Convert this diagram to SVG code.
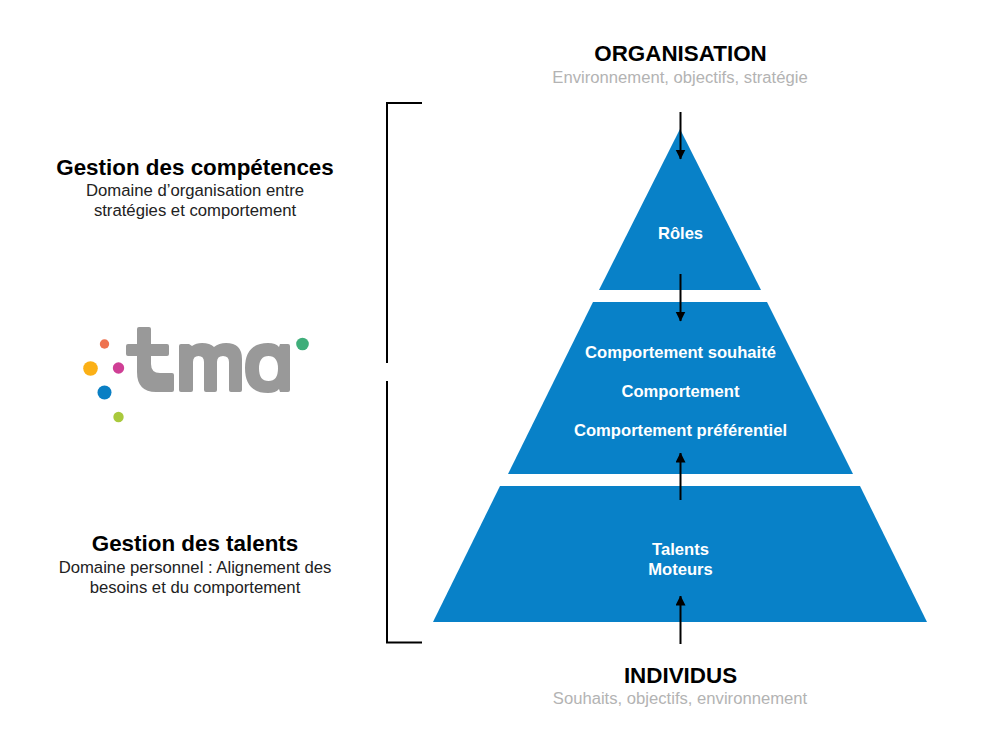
<svg xmlns="http://www.w3.org/2000/svg" width="1000" height="750" viewBox="0 0 1000 750">
<defs>
<marker id="ah" markerUnits="userSpaceOnUse" markerWidth="10" markerHeight="12" refX="9.500" refY="5" orient="auto"><path d="M0,0L10,5L0,10Z" fill="#000"/></marker>
</defs>
<style>
text{font-family:"Liberation Sans",Arial,sans-serif;text-anchor:middle}
.tier{fill:#0881c8}
.w{fill:#fff;font-weight:700;font-size:16.600px}
.h{fill:#000;font-weight:700;font-size:22.400px}
.h2{fill:#000;font-weight:700;font-size:22.400px}
.s{fill:#b3b3b3;font-size:16.650px}
.d{fill:#222;font-size:16.700px}
.br{fill:none;stroke:#000;stroke-width:2}
.ar{stroke:#000;stroke-width:2;fill:none;marker-end:url(#ah)}
.lg{fill:#999}
</style>
<rect width="1000" height="750" fill="#fff"/>
<g id="header-org"><text x="680.500" y="61" class="h">ORGANISATION</text><text x="680" y="83" class="s">Environnement, objectifs, stratégie</text></g>
<g id="footer-ind"><text x="680.500" y="683" class="h">INDIVIDUS</text><text x="680" y="704" class="s">Souhaits, objectifs, environnement</text></g>
<g id="tier-roles"><polygon class="tier" points="680,129 761,290 599,290"/><text x="680.500" y="239" class="w">Rôles</text></g>
<g id="tier-comportement"><polygon class="tier" points="593,302 767,302 853,474 508,474"/><text x="680.500" y="358" class="w">Comportement souhaité</text><text x="680.500" y="397" class="w">Comportement</text><text x="680.500" y="436" class="w">Comportement préférentiel</text></g>
<g id="tier-talents"><polygon class="tier" points="500,486 860,486 927,622 433,622"/><text x="680.500" y="555" class="w">Talents</text><text x="680.500" y="575" class="w">Moteurs</text></g>
<g id="connectors">
<line class="ar" x1="680.500" y1="112" x2="680.500" y2="159"/>
<line class="ar" x1="680.500" y1="274" x2="680.500" y2="321"/>
<line class="ar" x1="680.500" y1="500" x2="680.500" y2="453"/>
<line class="ar" x1="680.500" y1="644" x2="680.500" y2="596"/>
<path class="br" d="M422,103H387V363"/>
<path class="br" d="M387,381V642.500H422"/>
</g>
<g id="label-competences"><text x="195" y="175" class="h2">Gestion des compétences</text><text x="195" y="196" class="d">Domaine d’organisation entre</text><text x="195" y="216" class="d">stratégies et comportement</text></g>
<g id="label-talents"><text x="195" y="551" class="h2">Gestion des talents</text><text x="195" y="573" class="d">Domaine personnel : Alignement des</text><text x="195" y="593" class="d">besoins et du comportement</text></g>
<g id="logo-tma">
<circle cx="104.500" cy="344" r="4.700" fill="#ee7350"/><circle cx="90.500" cy="368.500" r="7.300" fill="#fbb016"/><circle cx="118.500" cy="368" r="5.700" fill="#cf3f95"/><circle cx="104.500" cy="392.500" r="7" fill="#0a7fc4"/><circle cx="118.500" cy="417" r="5.200" fill="#a9c93c"/><circle cx="302.500" cy="344" r="6.300" fill="#3fae7a"/>
<path class="lg" d="M139,327h10a2,2 0 0 1 2,2V344H167a2,2 0 0 1 2,2v8a2,2 0 0 1 -2,2H151V364Q151,373 160,373H172a2,2 0 0 1 2,2V390a2,2 0 0 1 -2,2H156Q137,392 137,372V356H128a2,2 0 0 1 -2,-2v-8a2,2 0 0 1 2,-2H137V329a2,2 0 0 1 2,-2z"/>
<path class="lg" d="M181,344h8l3,2q4,-3 10,-3q8,0 12,4q5,-4 12,-4q16,0 16,16V390a2,2 0 0 1 -2,2h-9a2,2 0 0 1 -2,-2V362q0,-6 -6,-6q-6,0 -6,6V390a2,2 0 0 1 -2,2h-9a2,2 0 0 1 -2,-2V362q0,-6 -5.500,-6q-5.500,0 -5.500,6V390a2,2 0 0 1 -2,2h-10a2,2 0 0 1 -2,-2V346a2,2 0 0 1 2,-2z"/>
<path class="lg" fill-rule="evenodd" d="M268,343q8,0 11,4l1,-3h8a2,2 0 0 1 2,2V390a2,2 0 0 1 -2,2h-8l-1,-3q-3,4 -11,4q-23,0 -23,-25q0,-25 23,-25zM268.500,356q-9.500,0 -9.500,12.500q0,12.500 9.500,12.500q9.500,0 9.500,-12.500q0,-12.500 -9.500,-12.500z"/>
</g>
</svg>
